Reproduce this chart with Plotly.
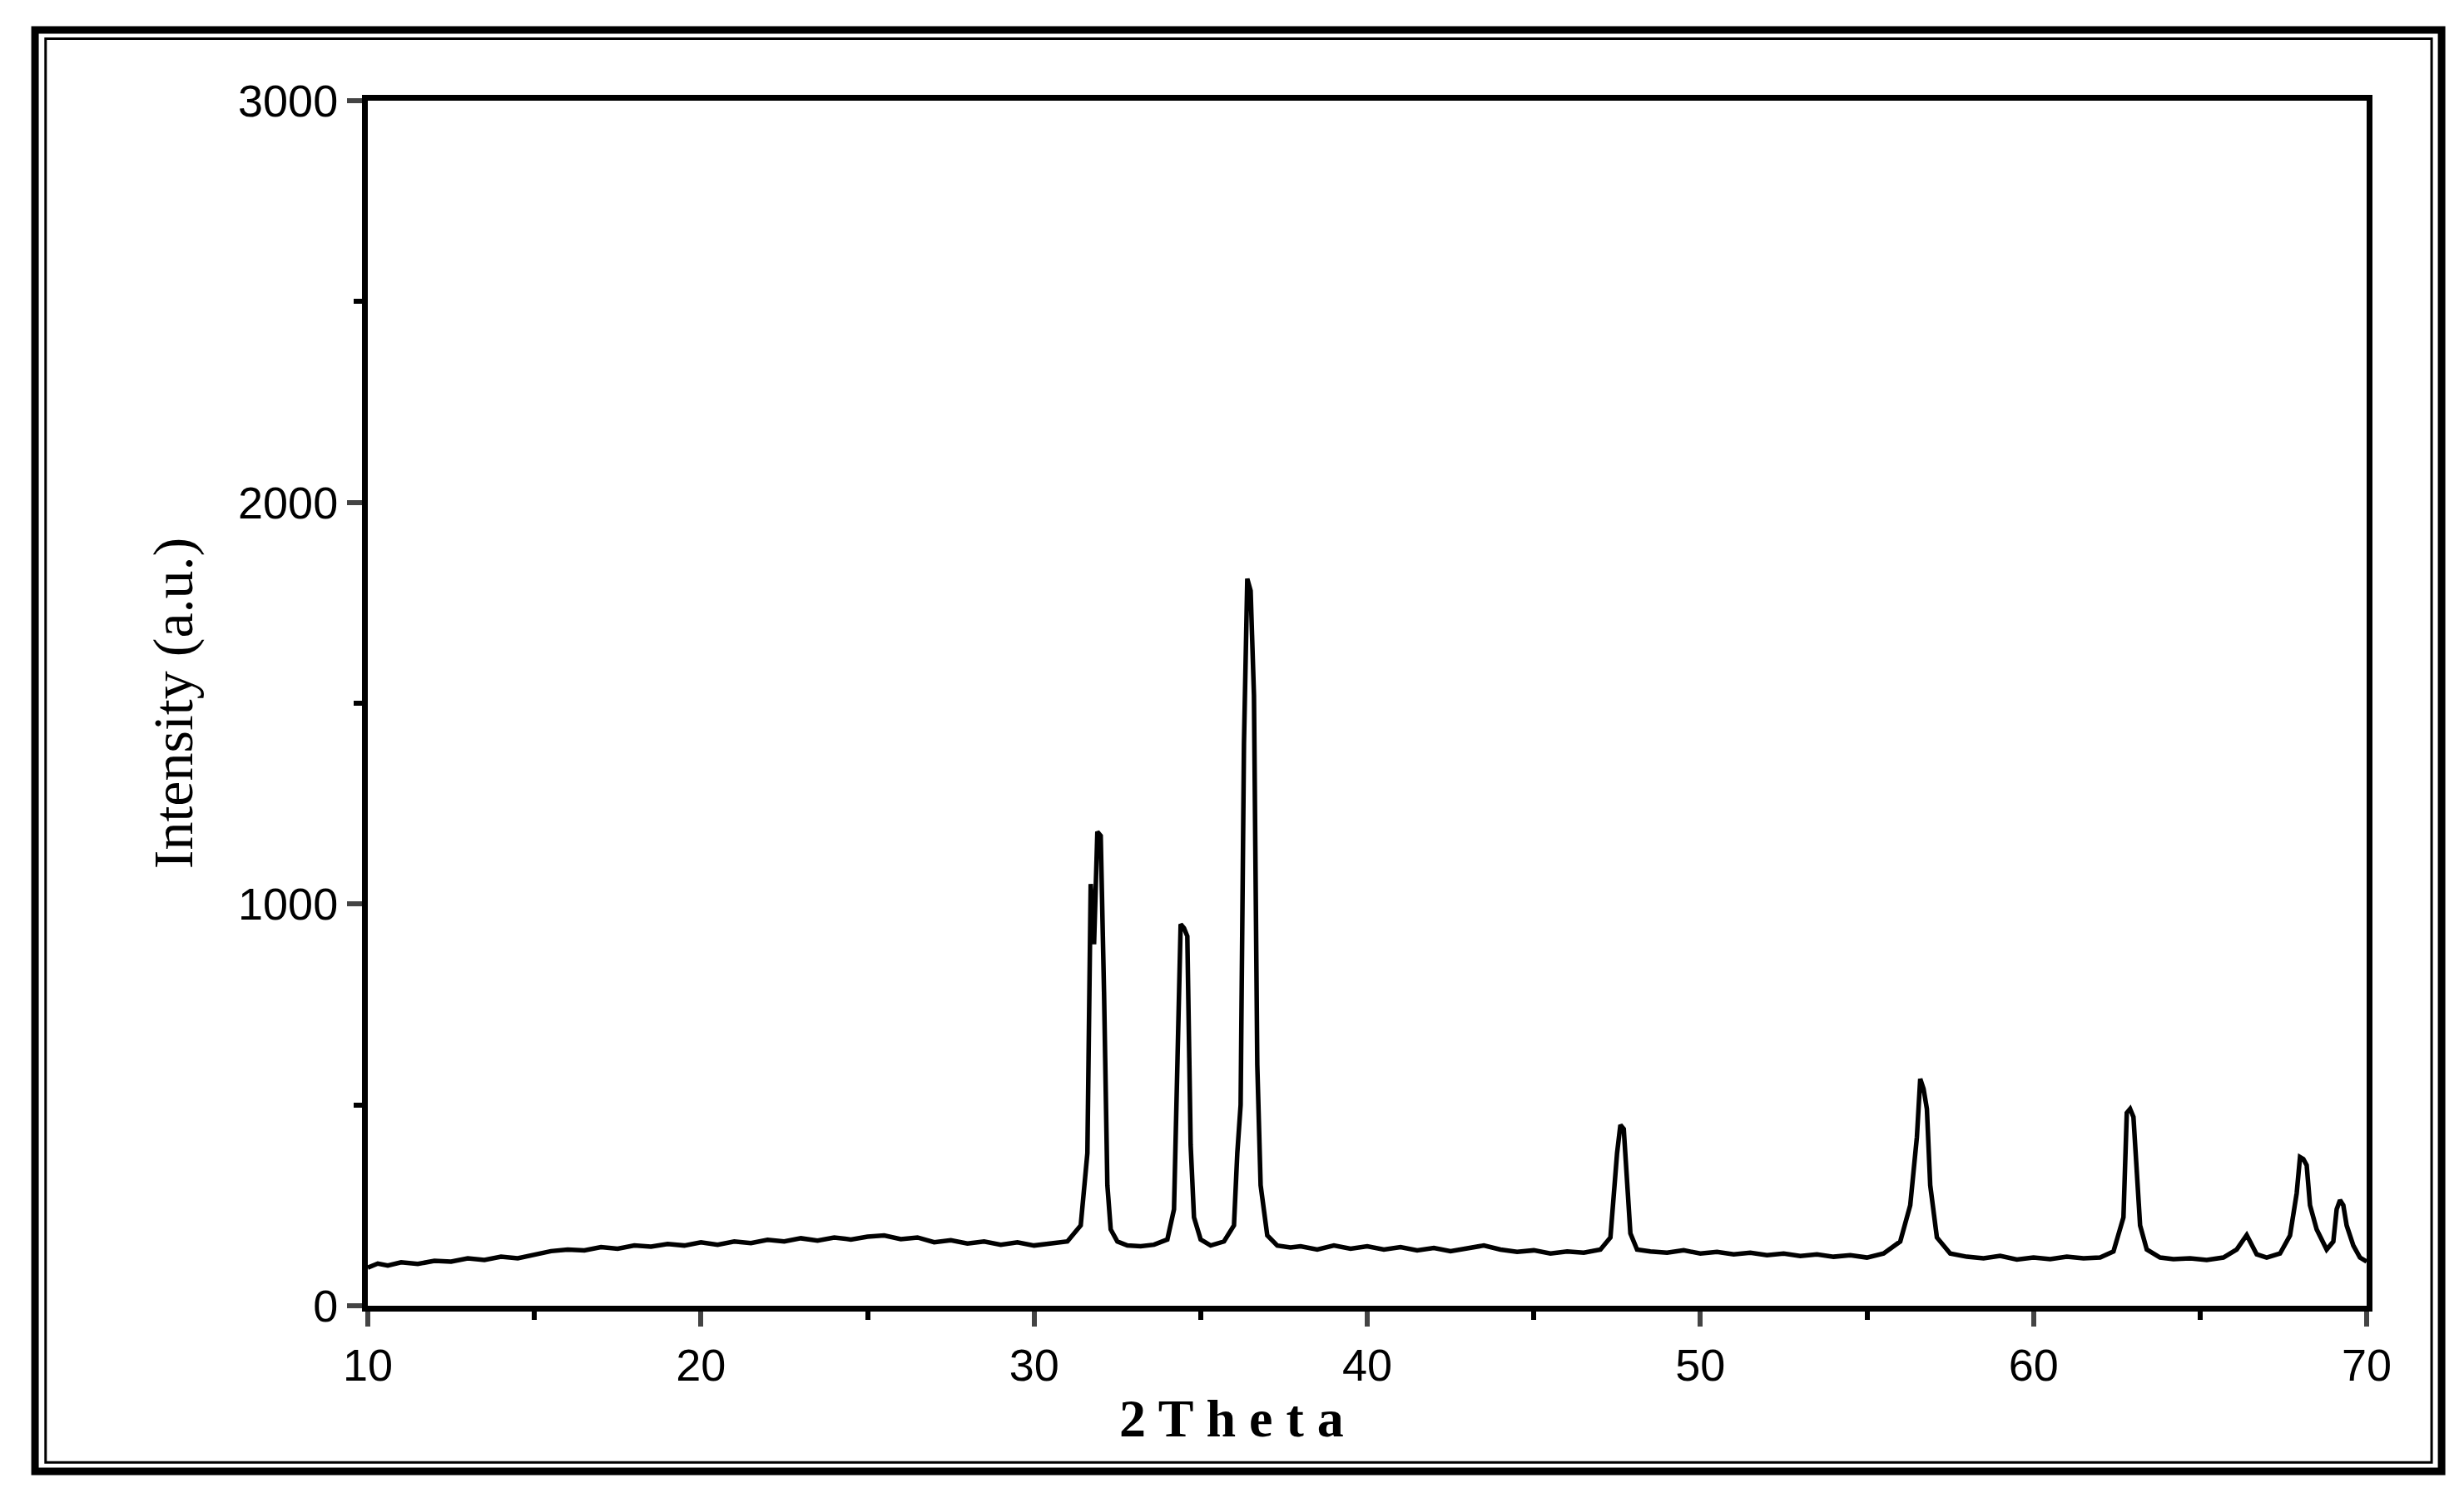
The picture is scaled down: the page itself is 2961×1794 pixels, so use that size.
import plotly.graph_objects as go

# XRD pattern (2 theta, intensity)
two_theta = [
    10.0, 10.3, 10.6, 11.0, 11.5, 12.0, 12.5, 13.0, 13.5, 14.0, 14.5, 15.0, 15.5, 16.0,
    16.5, 17.0, 17.5, 18.0, 18.5, 19.0, 19.5, 20.0, 20.5, 21.0, 21.5, 22.0, 22.5, 23.0,
    23.5, 24.0, 24.5, 25.0, 25.5, 26.0, 26.5, 27.0, 27.5, 28.0, 28.5, 29.0, 29.5, 30.0,
    30.5, 31.0, 31.4, 31.6, 31.7, 31.8, 31.9, 32.0, 32.1, 32.2, 32.3, 32.5, 32.8, 33.2,
    33.6, 34.0, 34.2, 34.3, 34.4, 34.5, 34.6, 34.7, 34.8, 35.0, 35.3, 35.7, 36.0, 36.1,
    36.2, 36.3, 36.4, 36.5, 36.6, 36.7, 36.8, 37.0, 37.3, 37.7, 38.0, 38.5, 39.0, 39.5,
    40.0, 40.5, 41.0, 41.5, 42.0, 42.5, 43.0, 43.5, 44.0, 44.5, 45.0, 45.5, 46.0, 46.5,
    47.0, 47.3, 47.5, 47.6, 47.7, 47.8, 47.9, 48.1, 48.5, 49.0, 49.5, 50.0, 50.5, 51.0,
    51.5, 52.0, 52.5, 53.0, 53.5, 54.0, 54.5, 55.0, 55.5, 56.0, 56.3, 56.5, 56.6, 56.7,
    56.8, 56.9, 57.1, 57.5, 58.0, 58.5, 59.0, 59.5, 60.0, 60.5, 61.0, 61.5, 62.0, 62.4,
    62.7, 62.8, 62.9, 63.0, 63.1, 63.2, 63.4, 63.8, 64.2, 64.7, 65.2, 65.7, 66.1, 66.3,
    66.4, 66.5, 66.7, 67.0, 67.4, 67.7, 67.9, 68.0, 68.1, 68.2, 68.3, 68.5, 68.8, 69.0,
    69.1, 69.2, 69.3, 69.4, 69.6, 69.8, 70.0,
]
intensity = [
    95, 105, 100, 108, 104, 112, 110, 118, 114, 122, 118, 128, 136, 140,
    138, 146, 142, 150, 147, 154, 150, 158, 152, 160, 156, 164, 160, 168,
    162, 170, 165, 172, 175, 166, 170, 158, 163, 155, 160, 152, 158, 150,
    156, 160, 200, 380, 1050, 900, 1180, 1170, 780, 300, 190, 160, 150, 148,
    152, 165, 240, 560, 950, 940, 920, 400, 220, 165, 150, 160, 200, 380,
    500, 1400, 1810, 1780, 1520, 600, 300, 175, 150, 145, 148, 140, 150, 142,
    148, 140, 146, 138, 144, 136, 142, 150, 140, 134, 138, 130, 135, 132,
    140, 170, 380, 450, 440, 300, 180, 140, 135, 132, 138, 130, 134, 128,
    132, 126, 130, 124, 128, 122, 126, 120, 130, 160, 250, 420, 565, 540,
    490, 300, 170, 130, 122, 118, 124, 115, 120, 116, 122, 118, 120, 135,
    220, 480, 490, 470, 340, 200, 140, 120, 116, 118, 114, 120, 140, 165,
    176, 160, 128, 120, 130, 175, 280, 370, 365, 350, 250, 190, 140, 160,
    240, 263, 250, 200, 150, 120, 110,
]

x_ticks = [10, 20, 30, 40, 50, 60, 70]
y_ticks = [0, 1000, 2000, 3000]

fig = go.Figure()
fig.add_trace(go.Scatter(
    x=two_theta, y=intensity, mode='lines',
    line=dict(color='black', width=5.5),
    showlegend=False,
))

tick_font = dict(family='Liberation Sans', size=54, color='black')

fig.update_xaxes(
    range=[10, 70], tickvals=x_ticks, ticks='outside', ticklen=18, tickwidth=6,
    minor=dict(dtick=5, ticks='outside', ticklen=10, tickwidth=6, tickcolor='black'),
    showline=True, linewidth=7, linecolor='black', mirror=True, showgrid=False,
    zeroline=False, tickfont=tick_font,
)
fig.update_yaxes(
    range=[0, 3000], tickvals=y_ticks, ticks='outside', ticklen=18, tickwidth=6,
    minor=dict(dtick=500, ticks='outside', ticklen=10, tickwidth=6, tickcolor='black'),
    showline=True, linewidth=7, linecolor='black', mirror=True, showgrid=False,
    zeroline=False, tickfont=tick_font,
    title=dict(text='Intensity (a.u.)', font=dict(family='Liberation Serif', size=68, color='black'),
               standoff=35),
)

fig.add_annotation(
    text='<b>2 T h e t a</b>', xref='paper', yref='paper', x=0.432, y=-0.068,
    xanchor='center', yanchor='top', showarrow=False,
    font=dict(family='Liberation Serif', size=64, color='black'),
)

# double frame around the whole picture
fig.add_shape(type='rect', xref='paper', yref='paper', x0=-0.1665, x1=1.0375, y0=-0.1374, y1=1.0587,
              line=dict(color='black', width=9))
fig.add_shape(type='rect', xref='paper', yref='paper', x0=-0.1612, x1=1.0325, y0=-0.1300, y1=1.0515,
              line=dict(color='black', width=3))

fig.update_layout(
    width=2961, height=1794,
    margin=dict(l=434, r=125, t=113, b=233),
    plot_bgcolor='white', paper_bgcolor='white',
)

fig.write_html('out.html')
